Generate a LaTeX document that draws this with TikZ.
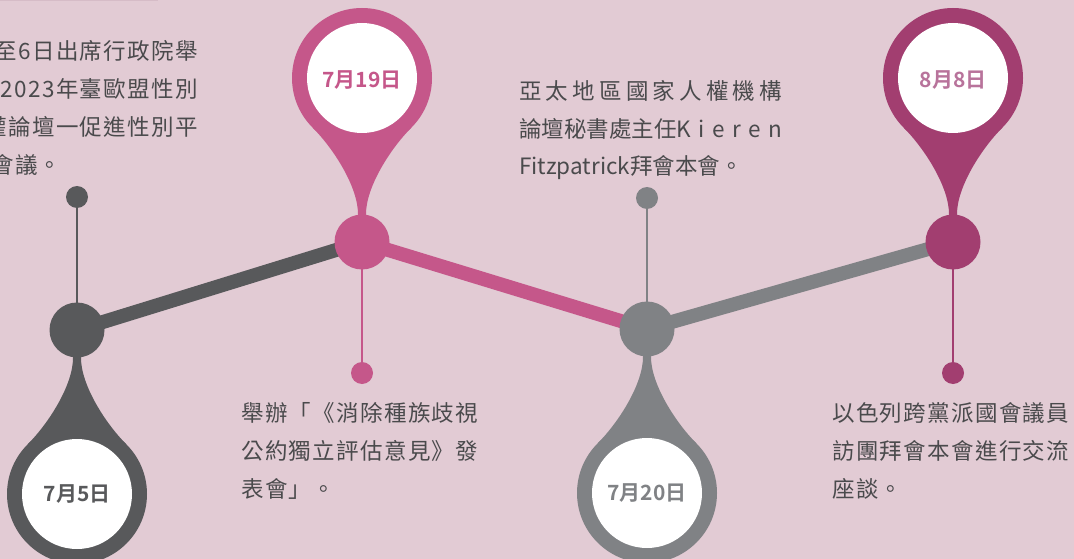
\documentclass[tikz,border=0pt]{standalone}
\usepackage{fontspec}
\newfontfamily\cjk[LetterSpace=6]{Noto Sans CJK TC}
\newfontfamily\cjkplain{Noto Sans CJK TC}
\newfontfamily\cjkbold{Noto Sans CJK TC Bold}
\definecolor{bgpink}{HTML}{E2CBD4}
\definecolor{topline}{HTML}{D6BCC7}
\definecolor{cdark}{HTML}{58595B}
\definecolor{cpink}{HTML}{C5578A}
\definecolor{cgray}{HTML}{808285}
\definecolor{cplum}{HTML}{A23E70}
\definecolor{cplumtext}{HTML}{B8739B}
\definecolor{bodytext}{HTML}{4A4A4C}
\pgfdeclarelayer{bg}
\pgfsetlayers{bg,main}
\tikzset{
  bigdot/.style={circle, minimum size=55pt, inner sep=0pt, fill=#1},
  smalldot/.style={circle, minimum size=22pt, inner sep=0pt, fill=#1},
  thickline/.style={line width=14pt, #1},
  thinline/.style={line width=2pt, #1},
  datelabel/.style={font=\cjkbold\fontsize{21}{24}\selectfont, text=#1, inner sep=0pt},
  bodyline/.style={font=\cjk\fontsize{22.5}{38}\selectfont, text=bodytext, inner sep=0pt},
  plainline/.style={font=\cjkplain\fontsize{22.5}{38}\selectfont, text=bodytext, inner sep=0pt},
  droppin/.pic={
    \fill[#1] (-4,0) -- (-4,28) .. controls (-4,55) and (-28.3,93.3) .. (-49.5,114.5)
      -- (49.5,114.5) .. controls (28.3,93.3) and (4,55) .. (4,28) -- (4,0) -- cycle;
    \fill[#1] (0,164) circle[radius=70pt];
    \fill[white] (0,164) circle[radius=55pt];
  }
}
\begin{document}
\begin{tikzpicture}[x=1pt,y=-1pt]
\useasboundingbox (0,0) rectangle (1074,559);
\clip (0,0) rectangle (1074,559);
% dots
\node[bigdot=cdark] (d1) at (77,330) {};
\node[bigdot=cpink] (d2) at (362,242) {};
\node[bigdot=cgray] (d3) at (647,329) {};
\node[bigdot=cplum] (d4) at (953,242) {};
\node[smalldot=cdark] (s1) at (77,197) {};
\node[smalldot=cpink] (s2) at (362,373) {};
\node[smalldot=cgray] (s3) at (647,198) {};
\node[smalldot=cplum] (s4) at (953,373) {};
\begin{pgfonlayer}{bg}
  \fill[bgpink] (0,0) rectangle (1074,559);
  \draw[line width=1.5pt, topline] (0,0.75) -- (158,0.75);
  \draw[thickline=cdark] (d1.center) -- (d2.center);
  \draw[thickline=cpink] (d2.center) -- (d3.center);
  \draw[thickline=cgray] (d3.center) -- (d4.center);
  \draw[thinline=cdark] (s1.center) -- (d1.center);
  \draw[thinline=cpink] (s2.center) -- (d2.center);
  \draw[thinline=cgray] (s3.center) -- (d3.center);
  \draw[thinline=cplum] (s4.center) -- (d4.center);
  \pic at (d1.center) {droppin=cdark};
  \pic[yscale=-1] at (d2.center) {droppin=cpink};
  \pic at (d3.center) {droppin=cgray};
  \pic[yscale=-1] at (d4.center) {droppin=cplum};
\end{pgfonlayer}
% dates
\node[datelabel=cdark] (t1) at (77,494) {7月5日};
\node[datelabel=cpink] (t2) at (362,80) {7月19日};
\node[datelabel=cgray] (t3) at (647,493) {7月20日};
\node[datelabel=cplumtext] (t4) at (953,80) {8月8日};
% top-left text
\node[bodyline, anchor=base east] (a1) at (198,60) {至6日出席行政院舉};
\node[bodyline, anchor=base east] (a2) at (198,98) {2023年臺歐盟性別};
\node[bodyline, anchor=base east] (a3) at (198,136) {權論壇一促進性別平};
\node[bodyline, anchor=base west] (a4) at (-9,174) {會議。};
% top-middle text
\node[plainline, anchor=base west] (b1) at (519,100) {\makebox[263pt][s]{亞\hfil 太\hfil 地\hfil 區\hfil 國\hfil 家\hfil 人\hfil 權\hfil 機\hfil 構}};
\node[plainline, anchor=base west] (b2) at (519,138) {\makebox[263pt][s]{論壇秘書處主任K\hfil i\hfil e\hfil r\hfil e\hfil n}};
\node[plainline, anchor=base west] (b3) at (519,175) {Fitzpatrick拜會本會。};
% bottom-middle text
\node[bodyline, anchor=base west] (c1) at (241,421) {舉辦「《消除種族歧視};
\node[bodyline, anchor=base west] (c2) at (241,459) {公約獨立評估意見》發};
\node[bodyline, anchor=base west] (c3) at (241,497) {表會」。};
% bottom-right text
\node[bodyline, anchor=base west] (e1) at (832,421) {以色列跨黨派國會議員};
\node[bodyline, anchor=base west] (e2) at (832,459) {訪團拜會本會進行交流};
\node[bodyline, anchor=base west] (e3) at (832,497) {座談。};
\end{tikzpicture}
\end{document}
